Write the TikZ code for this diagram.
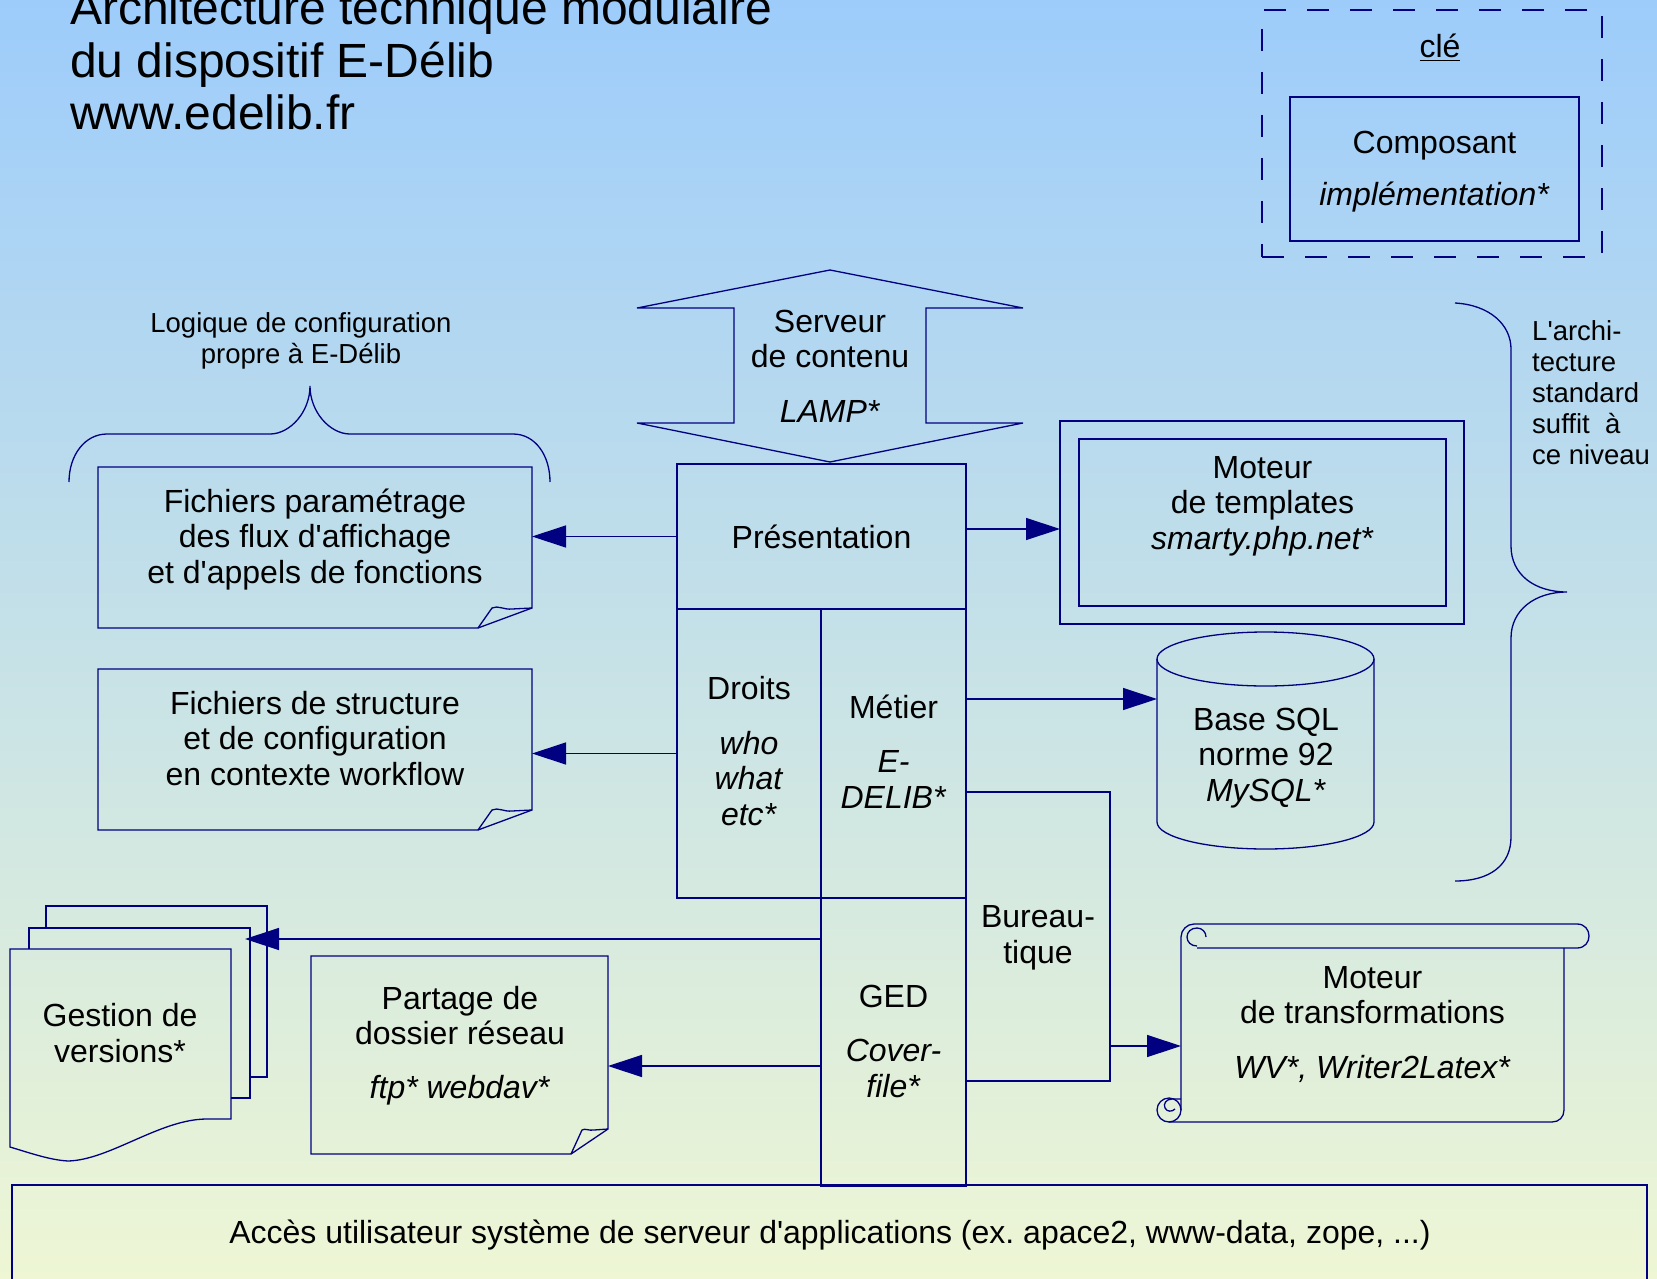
\documentclass[tikz,border=0pt]{standalone}
\usepackage{fontspec}
\setmainfont{Liberation Sans}[Ligatures=TeXOff]
\usetikzlibrary{arrows.meta,calc}
\definecolor{navy}{RGB}{0,0,128}
\definecolor{bgtop}{RGB}{157,204,251}
\definecolor{bgbot}{RGB}{238,246,212}
\frenchspacing
\begin{document}
\begin{tikzpicture}[x=1pt,y=-1pt,
  ln/.style={draw=navy,line width=1.3pt},
  box/.style={ln,rectangle,inner sep=0pt,outer sep=0pt},
  anc/.style={rectangle,inner sep=0pt,outer sep=0pt},
  arr/.style={ln,-{Triangle[length=34pt,width=22pt]}},
  lbl/.style={anchor=base,align=center,inner sep=0pt,font=\fontsize{32}{35.5}\selectfont},
  sml/.style={anchor=base,align=center,inner sep=0pt,font=\fontsize{27.5}{30.5}\selectfont},
]
\useasboundingbox (0,0) rectangle (1657,1279);
\shade[top color=bgtop,bottom color=bgbot] (0,0) rectangle (1657,1279);

% title (anchor = baseline of last line)
\node[anchor=base west,align=left,inner sep=0pt,font=\fontsize{48}{52.5}\selectfont] (title) at (70,130)
  {Architecture technique modulaire\\du dispositif E-Délib\\www.edelib.fr};

% legend
\node[box,dash pattern=on 22pt off 21pt,line width=1.2pt,minimum width=340pt,minimum height=247pt] (legout) at (1432,133.5) {};
\node[box,minimum width=289pt,minimum height=144pt] (legin) at (1434.5,169) {};
\node[lbl] (cle) at (1440,58) {\underline{clé}};
\node[lbl] (comp) at (1434.5,205) {Composant\\[16pt]\textit{implémentation*}};

% server double arrow
\node[anc,minimum width=386pt,minimum height=192pt] (serv) at (830,366) {};
\draw[ln] (830,270) -- (1023,308) -- (926,308) -- (926,423) -- (1023,423) -- (830,462)
  -- (637,423) -- (734,423) -- (734,308) -- (637,308) -- cycle;
\node[lbl] (servt) at (830,422) {Serveur\\de contenu\\[19pt]\textit{LAMP*}};

% central block
\node[box,minimum width=289pt,minimum height=145pt] (pres) at (821.5,536.5) {};
\node[box,minimum width=144pt,minimum height=289pt] (droits) at (749,753.5) {};
\node[box,minimum width=145pt,minimum height=289pt] (metier) at (893.5,753.5) {};
\node[box,minimum width=145pt,minimum height=288pt] (ged) at (893.5,1042) {};
\node[box,minimum width=144pt,minimum height=289pt] (bureau) at (1038,936.5) {};
\node[lbl] (prest) at (821.5,548) {Présentation};
\node[lbl] (droitst) at (749,825) {Droits\\[19pt]\textit{who}\\\textit{what}\\\textit{etc*}};
\node[lbl] (metiert) at (893.5,808) {Métier\\[18.5pt]\textit{E-}\\\textit{DELIB*}};
\node[lbl] (gedt) at (893.5,1097) {GED\\[18.5pt]\textit{Cover-}\\\textit{file*}};
\node[lbl] (bureaut) at (1038,963) {Bureau-\\tique};

% left documents
\node[anc,minimum width=434pt,minimum height=161pt] (fich1) at (315,547.5) {};
\draw[ln] (98,467) -- (532,467) -- (532,608) -- (478,628) -- (98,628) -- cycle;
\draw[ln] (478,628) -- (492,608) .. controls (498,605) and (504,610) .. (512,609) -- (532,608);
\node[lbl] (fich1t) at (315,583) {Fichiers paramétrage\\des flux d'affichage\\et d'appels de fonctions};

\node[anc,minimum width=434pt,minimum height=161pt] (fich2) at (315,749.5) {};
\draw[ln] (98,669) -- (532,669) -- (532,810) -- (478,830) -- (98,830) -- cycle;
\draw[ln] (478,830) -- (492,810) .. controls (498,807) and (504,812) .. (512,811) -- (532,810);
\node[lbl] (fich2t) at (315,785) {Fichiers de structure\\et de configuration\\en contexte workflow};

% brace above
\draw[ln] (69,482) .. controls (69,455) and (85,434) .. (107,434) -- (270,434)
  .. controls (290,434) and (310,412) .. (310,386)
  .. controls (310,412) and (330,434) .. (350,434) -- (513,434)
  .. controls (535,434) and (550,455) .. (550,482);
\node[sml] (logique) at (301,363) {Logique de configuration\\propre à E-Délib};

% templates
\node[box,minimum width=404pt,minimum height=203pt] (tmplo) at (1262,522.5) {};
\node[box,minimum width=367pt,minimum height=167pt] (tmpli) at (1262.5,522.5) {};
\node[lbl] (tmplt) at (1262.5,549) {Moteur\\de templates\\\textit{smarty.php.net*}};

% database cylinder
\node[anc,minimum width=217pt,minimum height=217pt] (sql) at (1265.5,740.5) {};
\draw[ln] (1265.5,659) ellipse [x radius=108.5, y radius=27];
\draw[ln] (1157,659) -- (1157,822) .. controls (1157,837) and (1205.6,849) .. (1265.5,849)
  .. controls (1325.4,849) and (1374,837) .. (1374,822) -- (1374,659);
\node[lbl] (sqlt) at (1266,801) {Base SQL\\norme 92\\\textit{MySQL*}};

% right brace
\draw[ln] (1455,303) .. controls (1490,305) and (1511,325) .. (1511,349) -- (1511,546)
  .. controls (1511,575) and (1535,592) .. (1567,592)
  .. controls (1535,592) and (1511,610) .. (1511,638) -- (1511,837)
  .. controls (1511,865) and (1490,881) .. (1455,881);
\node[anchor=base west,align=left,inner sep=0pt,font=\fontsize{27.5}{31}\selectfont] (archi) at (1532,464)
  {L'archi-\\tecture\\standard\\suffit\ \ à\\ce niveau};

% versions stack
\node[anc,minimum width=257pt,minimum height=255pt] (gest) at (138.5,1033.5) {};
\coordinate (gestin) at ([xshift=-22pt]gest.east);
\draw[ln] (46,928) -- (46,906) -- (267,906) -- (267,1077) -- (250,1077);
\draw[ln] (29,949) -- (29,928) -- (250,928) -- (250,1098) -- (231,1098);
\draw[ln] (10,949) -- (231,949) -- (231,1119) -- (207,1119)
  .. controls (160,1119) and (110,1160) .. (68,1161)
  .. controls (50,1160) and (30,1153) .. (10,1147) -- cycle;
\node[lbl] (gestt) at (120,1062) {Gestion de\\versions*};

% partage
\node[anc,minimum width=297pt,minimum height=198pt] (partage) at (459.5,1055) {};
\draw[ln] (311,956) -- (608,956) -- (608,1129) -- (571,1154) -- (311,1154) -- cycle;
\draw[ln] (571,1154) -- (582,1130) .. controls (585,1128) and (589,1131) .. (594,1130) -- (608,1129);
\node[lbl] (partaget) at (460,1098) {Partage de\\dossier réseau\\[18pt]\textit{ftp* webdav*}};

% scroll
\node[anc,minimum width=383pt,minimum height=198pt] (trans) at (1372.5,1023) {};
\draw[ln] (1194,924) -- (1577,924) .. controls (1593,924) and (1593,948) .. (1577,948) -- (1197,948);
\draw[ln] (1194,924) .. controls (1187,924) and (1181,930) .. (1181,937) -- (1181,1110);
\draw[ln] (1197,946) .. controls (1191,946) and (1187,942) .. (1187,937)
  .. controls (1187,932) and (1191,928) .. (1197,928)
  .. controls (1202,928) and (1206,932) .. (1206,937);
\draw[ln] (1169,1110) circle [radius=12];
\draw[ln] (1169,1122) -- (1552,1122) .. controls (1559,1122) and (1564,1117) .. (1564,1110) -- (1564,948);
\draw[ln] (1181,1099) -- (1172,1099) .. controls (1166,1099) and (1163,1104) .. (1165,1108)
  .. controls (1167,1112) and (1172,1112) .. (1175,1109);
\node[lbl] (transt) at (1372.5,1078) {Moteur\\de transformations\\[19pt]\textit{WV*, Writer2Latex*}};

% bottom bar
\node[anc,minimum width=1635pt,minimum height=94pt] (bar) at (829.5,1232) {};
\draw[ln] (bar.south west) -- (bar.north west) -- (bar.north east) -- (bar.south east);
\node[lbl] (bart) at (830,1243) {Accès utilisateur système de serveur d'applications (ex. apace2, www-data, zope, ...)};

% connectors
\draw[arr] (pres.west) -- (pres.west -| fich1.east);
\draw[arr] (droits.west) -- (droits.west -| fich2.east);
\draw[arr] ([yshift=7.5pt]pres.east) -- ([yshift=7.5pt]pres.east -| tmplo.west);
\draw[arr] ([yshift=54.5pt]metier.east) -- ([yshift=54.5pt]metier.east -| sql.west);
\draw[arr] ([yshift=-109.5pt]bureau.east) -- ([yshift=-109.5pt]bureau.east -| trans.west);
\draw[arr] ([yshift=103pt]ged.west) -- ([yshift=103pt]ged.west -| gestin);
\draw[arr] ([yshift=-24pt]ged.west) -- ([yshift=-24pt]ged.west -| partage.east);
\end{tikzpicture}
\end{document}
